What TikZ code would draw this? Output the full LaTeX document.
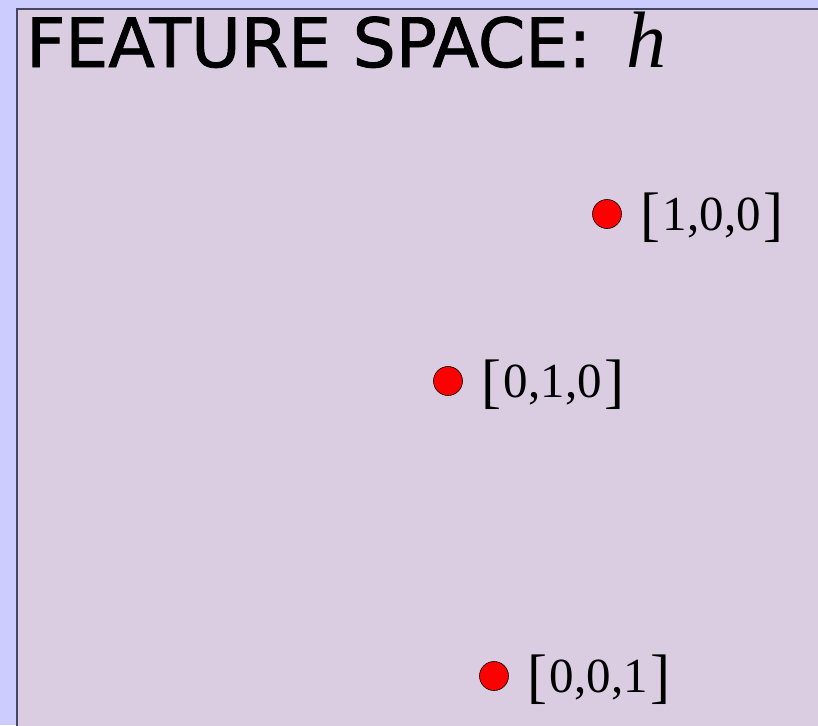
\documentclass[tikz,border=0pt]{standalone}
\usepackage{fontspec}
\setmainfont{Liberation Serif}
\newfontfamily\titlefont[FakeBold=1.2]{DejaVu Sans}
\usepackage{tikz}
\usetikzlibrary{positioning}

\definecolor{pagebg}{RGB}{204,204,255}
\definecolor{spacebg}{RGB}{219,205,225}
\definecolor{spaceedge}{RGB}{70,70,95}

%% one-hot vector with tall brackets
\newcommand{\vecbr}[1]{{\fontsize{60}{60}\selectfont\raisebox{-4pt}{#1}}}
\newcommand{\featvec}[1]{\vecbr{[}\hspace{3pt}#1\hspace{3pt}\vecbr{]}}

\begin{document}
\begin{tikzpicture}[x=1pt, y=-1pt,
    featdot/.style={circle, draw=black, line width=0.6pt, fill=red,
      minimum size=29pt, inner sep=0pt},
    featlabel/.style={font=\fontsize{49}{49}\selectfont, inner sep=0pt, anchor=base west}]
  %% page background and the feature space panel
  \useasboundingbox (0,0) rectangle (818,725);
  \fill[pagebg] (0,0) rectangle (818,725);
  \draw[spaceedge, line width=1.6pt, fill=spacebg] (17,9) rectangle (830,740);
  %% title
  \node[anchor=base west, inner sep=0pt, font=\titlefont\fontsize{68}{68}\selectfont]
    (title) at (26,67) {FEATURE SPACE:};
  \node[anchor=base west, inner sep=0pt, font=\fontsize{80}{80}\selectfont\itshape]
    (titleh) at (626,67) {h};
  %% one-hot feature vectors
  \node[featdot] (pt100) at (607,214) {};
  \node[featdot] (pt010) at (448,381) {};
  \node[featdot] (pt001) at (494,676) {};
  \node[featlabel] (lab100) at ([xshift=18pt, yshift=-16pt]pt100.east) {\featvec{1,0,0}};
  \node[featlabel] (lab010) at ([xshift=18pt, yshift=-16pt]pt010.east) {\featvec{0,1,0}};
  \node[featlabel] (lab001) at ([xshift=18pt, yshift=-16pt]pt001.east) {\featvec{0,0,1}};
\end{tikzpicture}
\end{document}
